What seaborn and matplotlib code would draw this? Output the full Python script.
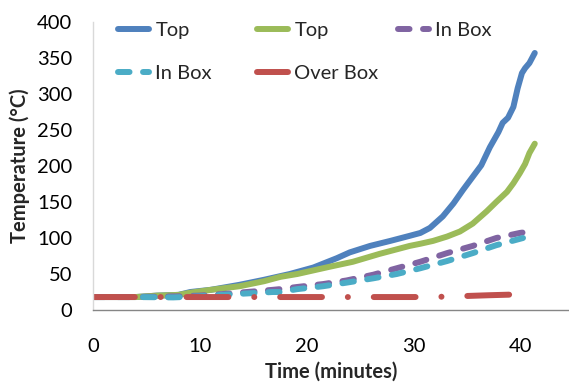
import matplotlib
matplotlib.use("Agg")
import matplotlib.pyplot as plt
import seaborn as sns
import numpy as np

# ---- data ----
top1_t = [0, 2, 4, 6, 8, 9.1, 11, 13.7, 16, 17.5, 18.4, 20.6, 22.8, 24.0, 25.9, 27.8, 29.6, 30.6,
          31.5, 31.8, 32.7, 33.7, 34.6, 35.5, 36.3, 37.1, 37.9, 38.3, 38.8, 39.3, 39.7, 40.1, 40.4, 40.8, 41.3]
top1_v = [18, 18, 18, 20, 21, 25, 28, 35, 42, 47, 50, 59, 72, 80, 89, 96, 103, 107,
          114, 118, 130, 148, 167, 185, 201, 226, 247, 260, 267, 282, 308, 329, 336, 343, 357]

top2_t = [0, 2, 4, 6, 8, 9.1, 11, 13.7, 16, 17.5, 19.1, 22.1, 24.3, 26.8, 29.6, 30.6, 31.5, 31.8,
          33.1, 34.3, 35.5, 36.8, 37.7, 38.7, 39.3, 39.9, 40.4, 40.8, 41.3]
top2_v = [18, 18, 18, 20, 21, 24, 28, 33, 40, 46, 50, 60, 67, 78, 89, 92, 95, 96,
          102, 109, 120, 137, 150, 164, 176, 190, 203, 218, 231]

inbox1_t = [0, 4, 8, 10, 12, 14.4, 16.8, 17.5, 19.1, 21.5, 23.7, 26.2, 28.4, 30.6, 33.1, 35.5, 37.7, 39.9, 41.3]
inbox1_v = [18, 18, 19, 20, 22, 25, 28, 29, 32, 36, 41, 49, 58, 67, 79, 89, 100, 107, 110]

inbox2_t = [0, 4, 7.5, 10, 12, 14.4, 16.8, 17.5, 19.1, 21.5, 23.7, 26.2, 28.4, 30.6, 33.1, 35.5, 37.7, 40.2]
inbox2_v = [18, 18, 17.5, 19, 21, 23, 25, 25, 29, 33, 38, 44, 50, 58, 68, 79, 90, 100]

over_t = [0, 5, 10, 15, 20, 25, 30, 33, 35, 37, 39.4]
over_v = [18, 18, 18, 18, 18, 18, 18, 18.5, 19.5, 20.5, 21.5]

labels = ["Top", "Top", "In Box", "In Box", "Over Box"]
colors = ["#4F81BD", "#9BBB59", "#8064A2", "#4BACC6", "#C0504D"]
x_ticks = [0, 10, 20, 30, 40]
y_ticks = [0, 50, 100, 150, 200, 250, 300, 350, 400]

# ---- figure ----
W, H = 569, 383
sns.set_style("white")
plt.rcParams["font.family"] = ["Lato", "DejaVu Sans"]
fig = plt.figure(figsize=(W / 100, H / 100), dpi=100)
ax = fig.add_axes([93 / W, (H - 310) / H, (569 - 93) / W, (310 - 22) / H])

lw = 4.3
common = dict(linewidth=lw, solid_capstyle="round", dash_capstyle="round", ax=ax)
series = [
    (top1_t, top1_v, "-"),
    (top2_t, top2_v, "-"),
    (inbox1_t, inbox1_v, (0, (1.93, 2.26))),
    (inbox2_t, inbox2_v, (0, (1.93, 2.26))),
    (over_t, over_v, (0, (7.0, 4.33, 0.01, 4.33))),
]
for (t, v, ls), lab, col in zip(series, labels, colors):
    sns.lineplot(x=t, y=v, color=col, linestyle=ls, label=lab, **common)

ax.set_xlim(0, 44.5)
ax.set_ylim(0, 400)
ax.set_xticks(x_ticks)
ax.set_yticks(y_ticks)
ax.tick_params(axis="both", length=0, labelsize=14.5, colors="black")
ax.tick_params(axis="y", pad=15)
ax.tick_params(axis="x", pad=20)
for s in ["top", "right"]:
    ax.spines[s].set_visible(False)
ax.spines["left"].set_color("#D9D9D9")
ax.spines["bottom"].set_color("#868686")
ax.spines["left"].set_linewidth(1.0)
ax.spines["bottom"].set_linewidth(1.0)

ax.set_xlabel("Time (minutes)", fontsize=14.5, fontweight="bold", labelpad=5)
ax.set_ylabel("Temperature (°C)", fontsize=14.5, fontweight="bold", labelpad=5)

handles, labs = ax.get_legend_handles_labels()
if ax.get_legend():
    ax.get_legend().remove()
cols = [[0, 3], [1, 4], [2]]
col_x = [118, 257, 398]
for idx, x0 in zip(cols, col_x):
    fig.legend([handles[i] for i in idx], [labs[i] for i in idx],
               loc="upper left", bbox_to_anchor=(x0 / W, (H - 22) / H),
               frameon=False, fontsize=14.5, handlelength=1.55,
               handletextpad=0.3, borderpad=0, borderaxespad=0,
               labelspacing=1.3)

fig.savefig("out.png", dpi=100)
